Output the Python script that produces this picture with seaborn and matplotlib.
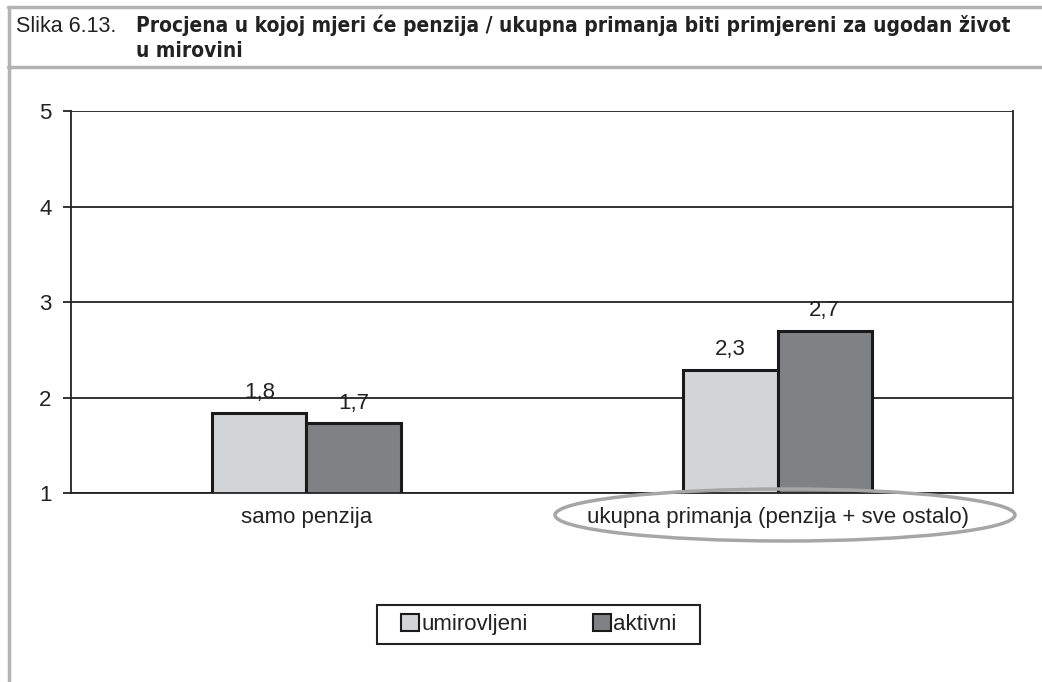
import pandas as pd
import matplotlib
matplotlib.use("Agg")
import matplotlib.pyplot as plt
from matplotlib.patches import Ellipse, Rectangle
from matplotlib.lines import Line2D
import seaborn as sns

# podaci
kategorije = ["samo penzija", "ukupna primanja (penzija + sve ostalo)"]
grupe = ["umirovljeni", "aktivni"]
umirovljeni = [1.84, 2.29]
aktivni = [1.73, 2.70]
oznake_y = [1, 2, 3, 4, 5]
boje = ["#d3d4d6", "#808185"]

df = pd.DataFrame({
    "kategorija": kategorije * 2,
    "grupa": [grupe[0]] * 2 + [grupe[1]] * 2,
    "vrijednost": umirovljeni + aktivni,
})

sns.set_theme(style="white")
plt.rcParams["font.family"] = ["Liberation Sans", "DejaVu Sans"]

W, H = 1042, 682
fig = plt.figure(figsize=(W / 100, H / 100), dpi=100)
ax = fig.add_axes([0.0681, 0.2771, 0.9041, 0.5601])

ax = sns.barplot(data=df, x="kategorija", y="vrijednost", hue="grupa",
                 order=kategorije, hue_order=grupe,
                 palette=boje, width=0.4,
                 edgecolor="#1a1a1a", linewidth=2.2, saturation=1, ax=ax)

for c in ax.containers:
    ax.bar_label(c, labels=[f"{b.get_height():.1f}".replace(".", ",") for b in c],
                 padding=7, fontsize=16, color="#222222")

ax.set_ylim(1, 5)
ax.set_yticks(oznake_y)
ax.set_yticklabels([str(v) for v in oznake_y])
ax.yaxis.grid(True, color="#222222", linewidth=1.3)
ax.set_axisbelow(True)
ax.set_xlabel("")
ax.set_ylabel("")
ax.tick_params(axis="y", length=6, width=1.3, color="#222222", pad=8,
               labelsize=16, labelcolor="#222222", left=True)
ax.tick_params(axis="x", length=0, pad=10, labelsize=16, labelcolor="#222222")
for s in ["left", "right", "bottom"]:
    ax.spines[s].set_color("#222222")
    ax.spines[s].set_linewidth(1.3)
ax.spines["top"].set_visible(False)

# legenda
ax.get_legend().remove()
handles = [Rectangle((0, 0), 1, 1, facecolor=col, edgecolor="#1a1a1a", linewidth=1.5)
           for col in boje]
leg = fig.legend(handles, grupe, loc="center", bbox_to_anchor=(0.517, 0.084),
                 ncol=2, frameon=False, fontsize=16,
                 handlelength=0.8, handleheight=0.8, handletextpad=0.1,
                 columnspacing=2.95, borderpad=0.0, labelcolor="#222222")
fig.canvas.draw()
bb = leg.get_window_extent()
okvir = Rectangle((bb.x0 - 24, bb.y0 - 9), bb.width + 24 + 24, bb.height + 18,
                  transform=None, fill=False, edgecolor="#222222", linewidth=1.5)
fig.patches.append(okvir)

# elipsa oko druge kategorije
ell = Ellipse((785 / W, 1 - 515 / H), 460 / W, 52 / H,
              transform=fig.transFigure, fill=False, edgecolor="#a6a6a6",
              linewidth=2.5, clip_on=False)
fig.patches.append(ell)

# okvir i naslov
fig.add_artist(Line2D([8 / W, 1], [1 - 7 / H, 1 - 7 / H], color="#b3b3b3", linewidth=2.5))
fig.add_artist(Line2D([8 / W, 1], [1 - 67 / H, 1 - 67 / H], color="#b3b3b3", linewidth=2.5))
fig.add_artist(Line2D([9 / W, 9 / W], [0, 1 - 7 / H], color="#b3b3b3", linewidth=2.5))

naslov_font = ["DejaVu Sans", "Liberation Sans"]
fig.text(16 / W, 1 - 32 / H, "Slika 6.13.", fontsize=15.5, color="#222222", va="baseline")
fig.text(136 / W, 1 - 32 / H,
         "Procjena u kojoj mjeri će penzija / ukupna primanja biti primjereni za ugodan život",
         fontsize=15, family=naslov_font, fontstretch="condensed", fontweight="bold",
         color="#222222", va="baseline")
fig.text(136 / W, 1 - 57 / H, "u mirovini", fontsize=15, family=naslov_font,
         fontstretch="condensed", fontweight="bold", color="#222222", va="baseline")

fig.savefig("out.png", dpi=100)
